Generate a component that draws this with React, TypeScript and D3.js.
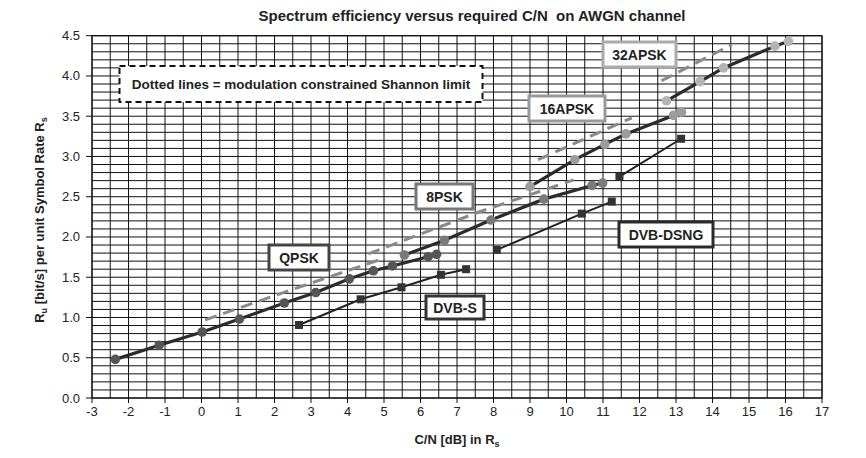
import React, { useEffect } from "react";
import * as d3 from "d3";

const xTickValues = d3.range(-3, 18, 1);
const yTickValues = [0, 0.5, 1, 1.5, 2, 2.5, 3, 3.5, 4, 4.5];

const qpskX = [-2.36, -1.16, 0.02, 1.04, 2.27, 3.13, 4.05, 4.71, 5.23, 6.21, 6.44];
const qpskY = [0.48, 0.655, 0.82, 0.98, 1.18, 1.31, 1.48, 1.58, 1.64, 1.755, 1.785];
const psk8X = [5.56, 6.66, 7.93, 9.38, 10.7, 10.99];
const psk8Y = [1.776, 1.96, 2.21, 2.47, 2.64, 2.67];
const apsk16X = [9.0, 10.23, 11.05, 11.63, 12.93, 13.15];
const apsk16Y = [2.625, 2.96, 3.15, 3.28, 3.51, 3.55];
const apsk32X = [12.74, 13.66, 14.3, 15.71, 16.08];
const apsk32Y = [3.69, 3.93, 4.1, 4.37, 4.43];
const dvbsX = [2.67, 4.36, 5.48, 6.56, 7.25];
const dvbsY = [0.907, 1.226, 1.375, 1.53, 1.6];
const dsng8X = [8.09, 10.42, 11.24];
const dsng8Y = [1.84, 2.29, 2.44];
const dsng16X = [11.45, 13.14];
const dsng16Y = [2.75, 3.22];

const qpskLimX = [0.1, 2.5, 5.03];
const qpskLimY = [0.97, 1.35, 1.74];
const psk8LimX = [4.57, 7.6, 10.2];
const psk8LimY = [1.79, 2.31, 2.71];
const apsk16LimX = [9.22, 11.79];
const apsk16LimY = [2.96, 3.48];
const apsk32LimX = [12.6, 14.53];
const apsk32LimY = [3.94, 4.39];

const labels = ["32APSK", "16APSK", "8PSK", "QPSK", "DVB-S", "DVB-DSNG"];
const noteText = "Dotted lines = modulation constrained Shannon limit";
const titleText = "Spectrum efficiency versus required C/N\u00a0 on AWGN channel";

const W = 866;
const H = 458;
const x = d3.scaleLinear().domain([-3, 17]).range([92, 822]);
const y = d3.scaleLinear().domain([0, 4.5]).range([398, 35.7]);

const zip = (xs: number[], ys: number[]) => xs.map((v, i) => [v, ys[i]] as [number, number]);
const line = d3
  .line<[number, number]>()
  .x((d) => x(d[0]))
  .y((d) => y(d[1]));

const FONT = "'Liberation Sans', Arial, sans-serif";

export default function App() {
  useEffect(() => {
    document.body.style.margin = "0";
  }, []);

  const vGrid = d3.range(-3, 17.001, 0.5);
  const hGrid = d3.range(0, 4.5001, 0.1);

  const solid = [
    { xs: qpskX, ys: qpskY, pt: "#555555" },
    { xs: psk8X, ys: psk8Y, pt: "#7a7a7a" },
    { xs: apsk16X, ys: apsk16Y, pt: "#9c9c9c" },
    { xs: apsk32X, ys: apsk32Y, pt: "#b4b4b4" },
  ];
  const squares = [
    { xs: dvbsX, ys: dvbsY },
    { xs: dsng8X, ys: dsng8Y },
    { xs: dsng16X, ys: dsng16Y },
  ];
  const limits = [
    { xs: qpskLimX, ys: qpskLimY },
    { xs: psk8LimX, ys: psk8LimY },
    { xs: apsk16LimX, ys: apsk16LimY },
    { xs: apsk32LimX, ys: apsk32LimY },
  ];
  const boxes = [
    { t: labels[0], b: [603, 42, 676, 67], c: "#aaaaaa" },
    { t: labels[1], b: [529, 96, 605, 121], c: "#999999" },
    { t: labels[2], b: [416, 184, 473, 209], c: "#777777" },
    { t: labels[3], b: [269, 245, 329, 270], c: "#444444" },
    { t: labels[4], b: [426, 296, 484, 319], c: "#333333" },
    { t: labels[5], b: [619, 222, 713, 247], c: "#2a2a2a" },
  ];

  return (
    <svg width={W} height={H} style={{ display: "block", background: "#fff" }} fontFamily={FONT}>
      <rect x={0} y={0} width={W} height={H} fill="#fff" />
      <text x={472} y={21} textAnchor="middle" fontSize={15} fontWeight="bold" fill="#222">
        {titleText}
      </text>

      <g stroke="#111" strokeWidth={1}>
        {vGrid.map((v) => (
          <line key={"v" + v} x1={x(v)} x2={x(v)} y1={y(0)} y2={y(4.5)} />
        ))}
        {hGrid.map((v) => (
          <line key={"h" + v} x1={x(-3)} x2={x(17)} y1={y(v)} y2={y(v)} />
        ))}
      </g>
      <rect x={x(-3)} y={y(4.5)} width={x(17) - x(-3)} height={y(0) - y(4.5)} fill="none" stroke="#111" strokeWidth={1.2} />

      <g stroke="#111" strokeWidth={1}>
        {xTickValues.map((v) => (
          <line key={"xt" + v} x1={x(v)} x2={x(v)} y1={y(0)} y2={y(0) + 5} />
        ))}
        {yTickValues.map((v) => (
          <line key={"yt" + v} x1={x(-3) - 6} x2={x(-3)} y1={y(v)} y2={y(v)} />
        ))}
      </g>
      <g fontSize={13} fill="#222">
        {xTickValues.map((v) => (
          <text key={"xl" + v} x={x(v)} y={416} textAnchor="middle">
            {v}
          </text>
        ))}
        {yTickValues.map((v) => (
          <text key={"yl" + v} x={80} y={y(v) + 4.5} textAnchor="end">
            {v.toFixed(1)}
          </text>
        ))}
      </g>

      <text x={457} y={444} textAnchor="middle" fontSize={13} fontWeight="bold" fill="#222">
        C/N [dB] in R<tspan fontSize={9} dy={3}>s</tspan>
      </text>
      <text
        transform={`translate(44, 220) rotate(-90)`}
        textAnchor="middle"
        fontSize={13}
        fontWeight="bold"
        fill="#222"
      >
        R<tspan fontSize={9} dy={3}>u</tspan>
        <tspan dy={-3}> [bit/s] per unit Symbol Rate R</tspan>
        <tspan fontSize={9} dy={3}>s</tspan>
      </text>

      {limits.map((s, i) => (
        <path
          key={"lim" + i}
          d={line(zip(s.xs, s.ys)) || ""}
          fill="none"
          stroke="#8a8a8a"
          strokeWidth={3}
          strokeDasharray="12,7"
        />
      ))}

      {squares.map((s, i) => (
        <g key={"sq" + i}>
          <path d={line(zip(s.xs, s.ys)) || ""} fill="none" stroke="#222" strokeWidth={2} />
          {zip(s.xs, s.ys).map((p, j) => (
            <rect key={j} x={x(p[0]) - 4} y={y(p[1]) - 4} width={8} height={8} fill="#333" />
          ))}
        </g>
      ))}

      {solid.map((s, i) => (
        <g key={"s" + i}>
          <path d={line(zip(s.xs, s.ys)) || ""} fill="none" stroke="#2b2b2b" strokeWidth={3.2} />
          {zip(s.xs, s.ys).map((p, j) => (
            <circle key={j} cx={x(p[0])} cy={y(p[1])} r={4.8} fill={s.pt} />
          ))}
        </g>
      ))}

      <rect x={119.5} y={66} width={363} height={36} fill="#fff" stroke="#111" strokeWidth={2} strokeDasharray="6,4" />
      <text x={301} y={89} textAnchor="middle" fontSize={13.5} fontWeight="bold" fill="#222">
        {noteText}
      </text>

      {boxes.map((b) => (
        <g key={b.t}>
          <rect
            x={b.b[0]}
            y={b.b[1]}
            width={b.b[2] - b.b[0]}
            height={b.b[3] - b.b[1]}
            fill="#fff"
            stroke={b.c}
            strokeWidth={3}
          />
          <text
            x={(b.b[0] + b.b[2]) / 2}
            y={(b.b[1] + b.b[3]) / 2 + 5}
            textAnchor="middle"
            fontSize={14}
            fontWeight="bold"
            fill="#222"
          >
            {b.t}
          </text>
        </g>
      ))}
    </svg>
  );
}
